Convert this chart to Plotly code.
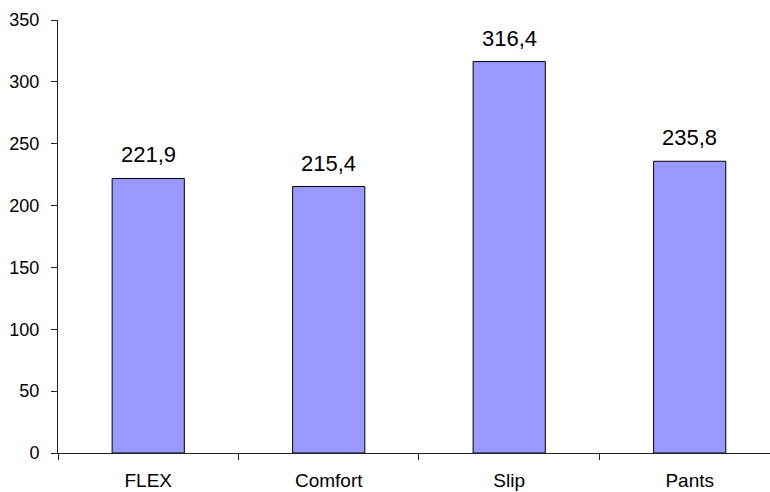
import plotly.graph_objects as go

categories = ["FLEX", "Comfort", "Slip", "Pants"]
values = [221.9, 215.4, 316.4, 235.8]
value_labels = ["221,9", "215,4", "316,4", "235,8"]
y_ticks = [0, 50, 100, 150, 200, 250, 300, 350]

FONT = "Liberation Sans, Arial, sans-serif"

fig = go.Figure()
fig.add_trace(go.Bar(
    x=categories,
    y=values,
    width=0.4,
    marker=dict(color="#9999FF", line=dict(color="#000000", width=1)),
    hoverinfo="x+y",
))

for cat, val, lab in zip(categories, values, value_labels):
    fig.add_annotation(
        x=cat, y=val, text=lab, showarrow=False,
        yanchor="bottom", yshift=9,
        font=dict(family=FONT, size=22, color="#000000"),
    )

fig.update_layout(
    width=770, height=492,
    margin=dict(l=58, r=0, t=20, b=39),
    paper_bgcolor="white", plot_bgcolor="white",
    showlegend=False,
    bargap=0.6,
    font=dict(family=FONT, color="#000000"),
)
fig.update_xaxes(
    type="category",
    range=[-0.5, 3.445],
    showline=True, linecolor="#222222", linewidth=1,
    ticks="outside", tickson="boundaries", ticklen=6, tickcolor="#222222",
    showgrid=False, zeroline=False,
    tickfont=dict(family=FONT, size=19, color="#000000"),
    ticklabelstandoff=10,
)
fig.update_yaxes(
    range=[0, 350],
    tickvals=y_ticks,
    showline=True, linecolor="#222222", linewidth=1,
    ticks="outside", ticklen=6, tickcolor="#222222",
    showgrid=False, zeroline=False,
    tickfont=dict(family=FONT, size=18, color="#000000"),
    ticklabelstandoff=8,
)

fig.write_html("out.html")
